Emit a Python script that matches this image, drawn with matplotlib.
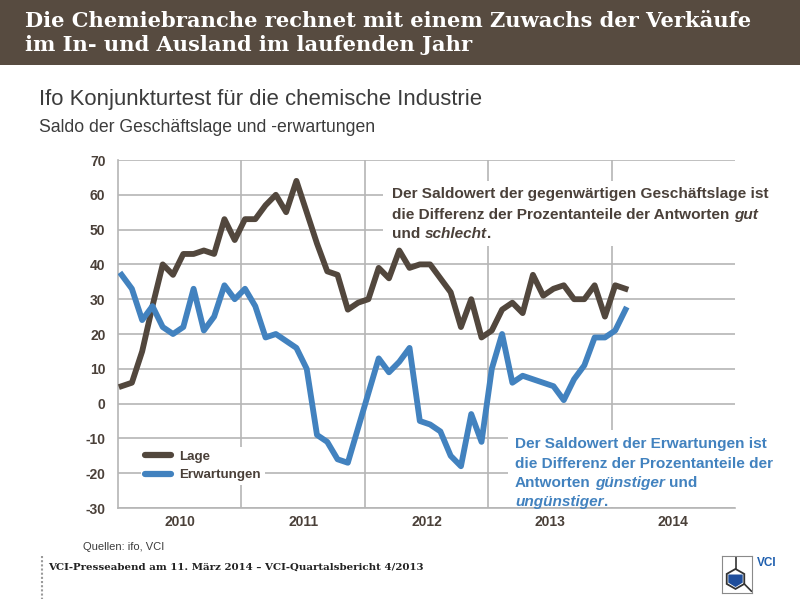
import matplotlib
matplotlib.use("Agg")
import matplotlib.pyplot as plt
from matplotlib.patches import Rectangle, Polygon
from matplotlib.lines import Line2D
import numpy as np

# ifo Konjunkturtest chemische Industrie, monthly Jan 2010 - Feb 2014
lage = [5, 6, 15, 28, 40, 37, 43, 43, 44, 43, 53, 47,
        53, 53, 57, 60, 55, 64, 55, 46, 38, 37, 27, 29,
        30, 39, 36, 44, 39, 40, 40, 36, 32, 22, 30, 19,
        21, 27, 29, 26, 37, 31, 33, 34, 30, 30, 34, 25,
        34, 33]
erwartungen = [37, 33, 24, 28, 22, 20, 22, 33, 21, 25, 34, 30,
               33, 28, 19, 20, 18, 16, 10, -9, -11, -16, -17, -7,
               3, 13, 9, 12, 16, -5, -6, -8, -15, -18, -3, -11,
               10, 20, 6, 8, 7, 6, 5, 1, 7, 11, 19, 19,
               21, 27]
years = ["2010", "2011", "2012", "2013", "2014"]
y_ticks = [-30, -20, -10, 0, 10, 20, 30, 40, 50, 60, 70]

BROWN = "#52473d"
BLUE = "#4282bf"
HEADER = "#574b40"
GRID = "#b5b5b5"
TXT = "#4a4039"

plt.rcParams["font.family"] = ["Liberation Sans", "DejaVu Sans"]

W, H = 800, 599


def fx(px):
    return px / W


def fy(py):
    return 1 - py / H


fig = plt.figure(figsize=(8, 5.99), dpi=100)
renderer = fig.canvas.get_renderer()

# header band
fig.patches.append(Rectangle((0, fy(65)), 1, 1 - fy(65), transform=fig.transFigure,
                             facecolor=HEADER, edgecolor="none", zorder=0))
fig.text(fx(25), fy(21), "Die Chemiebranche rechnet mit einem Zuwachs der Verkäufe",
         family="DejaVu Serif", weight="bold", size=15.1, color="white", va="center")
fig.text(fx(25), fy(45), "im In- und Ausland im laufenden Jahr",
         family="DejaVu Serif", weight="bold", size=15.1, color="white", va="center")

fig.text(fx(39), fy(100), "Ifo Konjunkturtest für die chemische Industrie",
         size=15.9, color="#3c3c3c", va="center")
fig.text(fx(39), fy(128), "Saldo der Geschäftslage und -erwartungen",
         size=12.7, color="#3c3c3c", va="center")

# chart
ax = fig.add_axes([fx(118), fy(508), fx(735) - fx(118), fy(160) - fy(508)])
x = np.arange(len(lage)) + 0.35
ax.plot(x, lage, color=BROWN, lw=4.2, zorder=3, label="Lage")
ax.plot(x, erwartungen, color=BLUE, lw=4.2, zorder=3, label="Erwartungen")

ax.set_xlim(0, 60)
ax.set_ylim(-30, 70)
ax.set_xticks([12, 24, 36, 48])
ax.set_xticklabels([])
ax.set_xticks([6 + 12 * i for i in range(len(years))], minor=True)
ax.set_xticklabels(years, minor=True)
ax.set_yticks(y_ticks)
ax.set_yticklabels([str(v) for v in y_ticks])
ax.tick_params(axis="both", which="both", length=0)
ax.tick_params(axis="y", pad=9, labelsize=10, labelcolor=TXT)
ax.tick_params(axis="x", which="minor", pad=5, labelsize=10, labelcolor=TXT)
for lbl in ax.get_yticklabels() + ax.get_xticklabels(minor=True):
    lbl.set_fontweight("bold")
ax.grid(True, which="major", color=GRID, lw=1.2)
ax.set_axisbelow(True)
for side in ["top", "right"]:
    ax.spines[side].set_visible(False)
for side in ["left", "bottom"]:
    ax.spines[side].set_color(GRID)
    ax.spines[side].set_linewidth(1.2)

# white boxes behind the notes
for (x0, y0, x1, y1) in [(383, 181, 735, 246), (508, 430, 735, 507)]:
    fig.patches.append(Rectangle((fx(x0), fy(y1)), fx(x1) - fx(x0), fy(y0) - fy(y1),
                                 transform=fig.transFigure, facecolor="white",
                                 edgecolor="none", zorder=2))

leg = ax.legend(loc="upper left", bbox_to_anchor=(fx(134), fy(440)),
                bbox_transform=fig.transFigure, frameon=True, fancybox=False,
                handlelength=2.0, handletextpad=0.6, labelspacing=0.45,
                borderpad=0.3, prop={"size": 9.6, "weight": "bold"})
leg.get_frame().set_facecolor("white")
leg.get_frame().set_edgecolor("none")
leg.get_frame().set_alpha(1)
for t in leg.get_texts():
    t.set_color(TXT)
for h in leg.get_lines():
    h.set_linewidth(4.5)
    h.set_solid_capstyle("round")


def rich_line(px, py, parts, color, size=11.1):
    """Place bold / bold-italic pieces one after another on a baseline."""
    probe1 = fig.text(0, 0, "x x", size=size, weight="bold")
    probe2 = fig.text(0, 0, "xx", size=size, weight="bold")
    space = (probe1.get_window_extent(renderer).width
             - probe2.get_window_extent(renderer).width)
    probe1.remove()
    probe2.remove()
    xpix = px
    for s, italic in parts:
        lead = len(s) - len(s.lstrip(" "))
        xpix += lead * space
        t = fig.text(fx(xpix), fy(py), s.strip(" "), size=size, weight="bold",
                     style="italic" if italic else "normal", color=color,
                     va="baseline", zorder=4)
        xpix += t.get_window_extent(renderer).width
        xpix += (len(s) - len(s.rstrip(" "))) * space


rich_line(392, 198, [("Der Saldowert der gegenwärtigen Geschäftslage ist", False)], TXT)
rich_line(392, 219, [("die Differenz der Prozentanteile der Antworten", False),
                     (" gut", True)], TXT)
rich_line(392, 238, [("und", False), (" schlecht", True), (".", False)], TXT)

rich_line(515, 448, [("Der Saldowert der Erwartungen ist", False)], BLUE)
rich_line(515, 468, [("die Differenz der Prozentanteile der", False)], BLUE)
rich_line(515, 487, [("Antworten", False), (" günstiger", True), (" und", False)], BLUE)
rich_line(515, 506, [("ungünstiger", True), (".", False)], BLUE)

# footer
fig.text(fx(83), fy(547), "Quellen: ifo, VCI", size=8, color="#3c3c3c", va="center")
fig.text(fx(48), fy(567), "VCI-Presseabend am 11. März 2014 – VCI-Quartalsbericht 4/2013",
         family="DejaVu Serif", weight="bold", size=7.4, color="#222222", va="center")
fig.lines.append(Line2D([fx(42), fx(42)], [fy(556), fy(599)], transform=fig.transFigure,
                        color="#9a9a9a", lw=1.5, linestyle=(0, (1, 1))))

# VCI logo
logo = fig.add_axes([fx(722), fy(593), fx(752) - fx(722), fy(556) - fy(593)])
logo.set_xlim(0, 1)
logo.set_ylim(0, 1)
logo.set_xticks([])
logo.set_yticks([])
for s in logo.spines.values():
    s.set_color("#8a8a8a")
    s.set_linewidth(0.8)
ang = np.deg2rad(np.arange(90, 450, 60))
cx, cy, r = 0.45, 0.38, 0.27
hx = cx + r * np.cos(ang) * 1.25
hy = cy + r * np.sin(ang)
logo.add_patch(Polygon(np.column_stack([hx, hy]), closed=True, facecolor="white",
                       edgecolor="#333333", lw=1.3))
inner = Polygon([[cx - 0.24, cy + 0.12], [cx + 0.24, cy + 0.12], [cx + 0.24, cy - 0.1],
                 [cx, cy - 0.22], [cx - 0.24, cy - 0.1]], closed=True,
                facecolor="#1f4e9c", edgecolor="none")
logo.add_patch(inner)
logo.plot([cx, cx], [cy + r, 0.98], color="#333333", lw=1.2)
logo.plot([hx[4], 0.98], [hy[4], 0.05], color="#333333", lw=1.2)
fig.text(fx(757), fy(563), "VCI", size=8.5, weight="bold", color="#1f5fae", va="center")

fig.savefig("out.png", dpi=100)
